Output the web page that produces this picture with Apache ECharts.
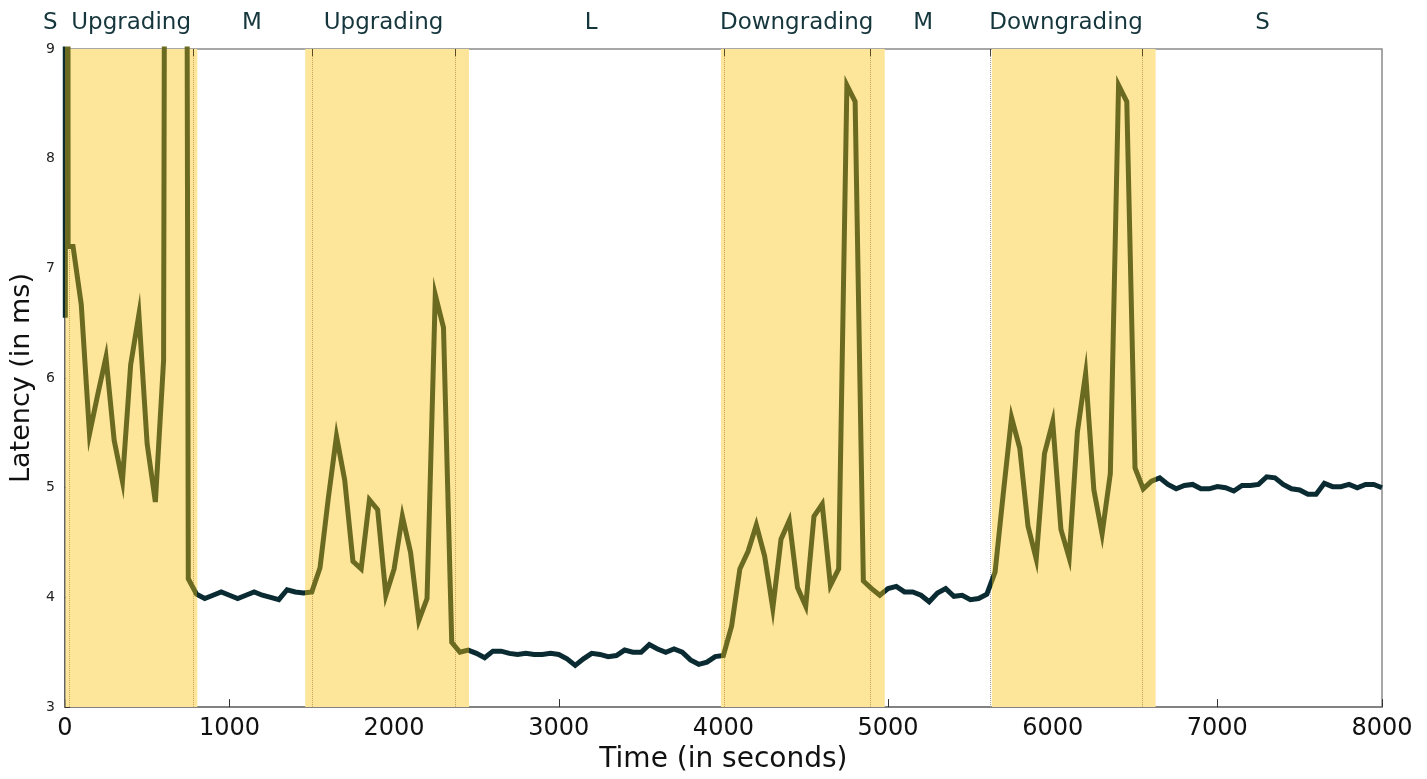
<!DOCTYPE html>
<html>
<head>
<meta charset="utf-8">
<title>Latency during scaling transitions</title>
<script src="https://cdn.jsdelivr.net/npm/echarts@6.0.0/dist/echarts.min.js"></script>
<style>
  html, body { margin: 0; padding: 0; background: #ffffff; }
  #chart { width: 1427px; height: 779px; }
</style>
</head>
<body>
<div id="chart"></div>
<script>
// Measurement times (seconds) and the latency observed at each one (ms).
// Values above 9 ms run off the top of the plot.
const sampleTimes = [
  0, 3, 12, 20,
  50, 100, 150, 200, 250, 300, 350, 400, 450, 500,
  550, 600, 650, 700, 750, 800, 850, 900, 950, 1000,
  1050, 1100, 1150, 1200, 1250, 1300, 1350, 1400, 1450, 1500,
  1550, 1600, 1650, 1700, 1750, 1800, 1850, 1900, 1950, 2000,
  2050, 2100, 2150, 2200, 2250, 2300, 2350, 2400, 2450, 2500,
  2550, 2600, 2650, 2700, 2750, 2800, 2850, 2900, 2950, 3000,
  3050, 3100, 3150, 3200, 3250, 3300, 3350, 3400, 3450, 3500,
  3550, 3600, 3650, 3700, 3750, 3800, 3850, 3900, 3950, 4000,
  4050, 4100, 4150, 4200, 4250, 4300, 4350, 4400, 4450, 4500,
  4550, 4600, 4650, 4700, 4750, 4800, 4850, 4900, 4950, 5000,
  5050, 5100, 5150, 5200, 5250, 5300, 5350, 5400, 5450, 5500,
  5550, 5600, 5650, 5700, 5750, 5800, 5850, 5900, 5950, 6000,
  6050, 6100, 6150, 6200, 6250, 6300, 6350, 6400, 6450, 6500,
  6550, 6600, 6650, 6700, 6750, 6800, 6850, 6900, 6950, 7000,
  7050, 7100, 7150, 7200, 7250, 7300, 7350, 7400, 7450, 7500,
  7550, 7600, 7650, 7700, 7750, 7800, 7850, 7900, 7950, 8000
];
const latencyMs = [
  40, 6.55, 40, 7.20,
  7.20, 6.67, 5.49, 5.85, 6.19, 5.43, 5.06, 6.12, 6.58, 5.40,
  4.87, 6.16, 40, 40, 4.17, 4.03, 3.99, 4.02, 4.05, 4.02,
  3.99, 4.02, 4.05, 4.02, 4.00, 3.98, 4.07, 4.05, 4.04, 4.05,
  4.27, 4.90, 5.47, 5.07, 4.33, 4.26, 4.89, 4.80, 4.02, 4.26,
  4.74, 4.41, 3.79, 3.99, 6.76, 6.46, 3.59, 3.50, 3.52, 3.49,
  3.45, 3.51, 3.51, 3.49, 3.48, 3.49, 3.48, 3.48, 3.49, 3.48,
  3.44, 3.38, 3.44, 3.49, 3.48, 3.46, 3.47, 3.52, 3.50, 3.50,
  3.57, 3.53, 3.50, 3.53, 3.50, 3.43, 3.39, 3.41, 3.46, 3.47,
  3.74, 4.26, 4.42, 4.66, 4.38, 3.90, 4.53, 4.70, 4.09, 3.92,
  4.74, 4.85, 4.11, 4.26, 8.67, 8.52, 4.15, 4.08, 4.02, 4.08,
  4.10, 4.05, 4.05, 4.02, 3.96, 4.04, 4.08, 4.01, 4.02, 3.98,
  3.99, 4.03, 4.23, 4.95, 5.64, 5.36, 4.65, 4.35, 5.31, 5.60,
  4.62, 4.36, 5.51, 6.04, 4.98, 4.58, 5.13, 8.67, 8.52, 5.18,
  4.99, 5.06, 5.09, 5.03, 4.99, 5.02, 5.03, 4.99, 4.99, 5.01,
  5.00, 4.97, 5.02, 5.02, 5.03, 5.10, 5.09, 5.03, 4.99, 4.98,
  4.94, 4.94, 5.04, 5.01, 5.01, 5.03, 5.00, 5.03, 5.03, 5.00
];

// Transition windows (shaded) in seconds.
const transitionStart = [4, 1460, 3985, 5630];
const transitionEnd   = [805, 2455, 4980, 6625];

// Stage captions along the top of the plot and where they sit on the time axis.
const stageLabels     = ['S', 'Upgrading', 'M', 'Upgrading', 'L', 'Downgrading', 'M', 'Downgrading', 'S'];
const stageLabelTimes = [-88, 403, 1136, 1936, 3197, 4445, 5214, 6081, 7274];

// Event markers (dotted verticals) inside the transitions, plus the one grey boundary.
const markerTimes   = [25, 779, 1502, 2374, 4006, 4889, 6545];
const boundaryTimes = [5622];

const xTicks = { min: 0, max: 8000, step: 1000 };
const yTicks = { min: 3, max: 9, step: 1 };

const COLOR_STEADY = '#0b2b33';
const COLOR_TRANSITION = '#6b6a21';
const COLOR_BAND = '#fde59a';
const COLOR_CAPTION = '#15363c';

const points = sampleTimes.map((t, i) => [t, latencyMs[i]]);

const bandAreas = transitionStart.map((s, i) => [
  { xAxis: s, itemStyle: { color: COLOR_BAND, opacity: 1 } },
  { xAxis: transitionEnd[i] }
]);

const markerLines = []
  .concat(markerTimes.map(t => ({ xAxis: t, lineStyle: { color: '#c4a25a', type: 'dotted', width: 1 } })))
  .concat(boundaryTimes.map(t => ({ xAxis: t, lineStyle: { color: '#9a9a9a', type: 'dotted', width: 1 } })))
  .concat(markerTimes.map(t => [
    { coord: [t, yTicks.max], lineStyle: { color: '#5b4c22', type: 'solid', width: 1 } },
    { coord: [t, yTicks.max - 0.065] }
  ]))
  .concat(boundaryTimes.map(t => [
    { coord: [t, yTicks.max], lineStyle: { color: '#444', type: 'solid', width: 1 } },
    { coord: [t, yTicks.max - 0.065] }
  ]));

const pieces = transitionStart.map((s, i) => ({ gte: s, lt: transitionEnd[i], color: COLOR_TRANSITION }));

const chart = echarts.init(document.getElementById('chart'), null, { renderer: 'canvas' });

chart.setOption({
  animation: false,
  backgroundColor: '#ffffff',
  textStyle: { fontFamily: 'DejaVu Sans' },
  grid: {
    left: 62, right: 45, top: 49, bottom: 67,
    show: true, borderColor: '#8a8a8a', borderWidth: 1.5, backgroundColor: 'transparent'
  },
  xAxis: {
    type: 'value',
    min: xTicks.min, max: xTicks.max, interval: xTicks.step,
    name: 'Time (in seconds)',
    nameLocation: 'middle',
    nameGap: 37,
    nameTextStyle: { fontSize: 28, color: '#111' },
    axisLine: { show: true, onZero: false, lineStyle: { color: '#777', width: 1.5 } },
    axisTick: { show: true, inside: true, length: 8, lineStyle: { color: '#333', width: 1 } },
    axisLabel: { fontSize: 24, color: '#111', margin: 10, formatter: v => String(v) },
    splitLine: { show: false }
  },
  yAxis: {
    type: 'value',
    min: yTicks.min, max: yTicks.max, interval: yTicks.step,
    name: 'Latency (in ms)',
    nameLocation: 'middle',
    nameGap: 22,
    nameTextStyle: { fontSize: 27, color: '#111' },
    axisLine: { show: true, onZero: false, lineStyle: { color: '#555', width: 1.5 } },
    axisTick: { show: true, inside: true, length: 5, lineStyle: { color: '#333', width: 1 } },
    axisLabel: { fontSize: 14, color: '#222', margin: 10, formatter: v => String(v) },
    splitLine: { show: false }
  },
  visualMap: {
    show: false,
    type: 'piecewise',
    seriesIndex: 1,
    dimension: 0,
    pieces: pieces,
    outOfRange: { color: COLOR_STEADY }
  },
  series: [
    {
      name: 'phases',
      type: 'line',
      data: [],
      silent: true,
      markArea: { silent: true, data: bandAreas },
      markLine: { silent: true, symbol: 'none', label: { show: false }, data: markerLines }
    },
    {
      name: 'latency',
      type: 'line',
      data: points,
      showSymbol: false,
      symbol: 'none',
      clip: true,
      lineStyle: { width: 5, join: 'miter' },
      z: 5
    },
    {
      name: 'stages',
      type: 'scatter',
      clip: false,
      silent: true,
      symbolSize: 0,
      itemStyle: { opacity: 1 },
      data: stageLabels.map((s, i) => ({ name: s, value: [stageLabelTimes[i], yTicks.max] })),
      label: {
        show: true,
        position: 'top',
        distance: 14,
        formatter: p => p.name,
        fontSize: 23,
        color: COLOR_CAPTION,
        opacity: 1
      }
    }
  ]
});
</script>
</body>
</html>
